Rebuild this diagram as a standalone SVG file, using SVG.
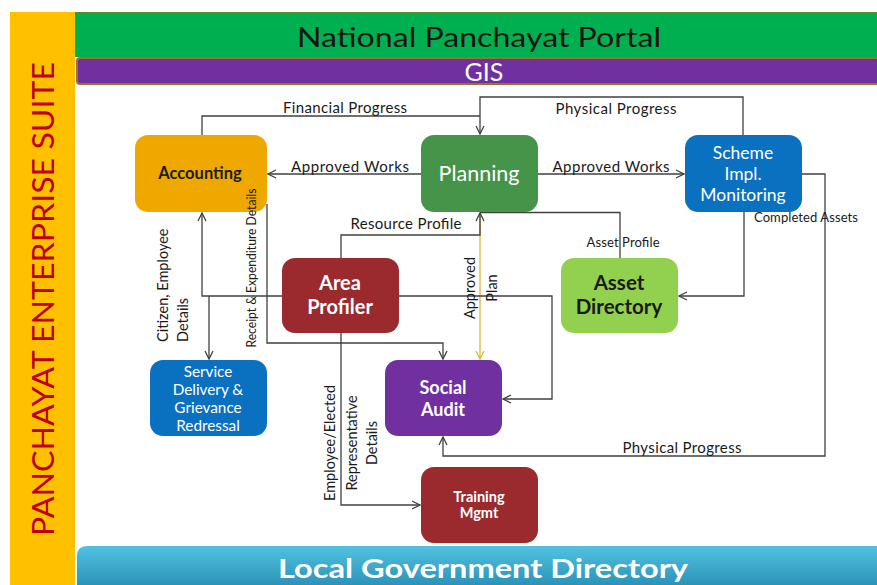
<svg xmlns="http://www.w3.org/2000/svg" width="877" height="585" viewBox="0 0 877 585">
  <defs>
    <marker id="arrow" viewBox="0 0 10 10" refX="9" refY="5" markerWidth="10" markerHeight="10" markerUnits="userSpaceOnUse" orient="auto">
      <path d="M1,1 L9,5 L1,9" fill="none" stroke="#404040" stroke-width="1.3"/>
    </marker>
    <marker id="arrowGold" viewBox="0 0 10 10" refX="9" refY="5" markerWidth="10" markerHeight="10" markerUnits="userSpaceOnUse" orient="auto">
      <path d="M1,1 L9,5 L1,9" fill="none" stroke="#E3B530" stroke-width="1.3"/>
    </marker>
    <linearGradient id="lgdFill" x1="0" y1="0" x2="0" y2="1">
      <stop offset="0" stop-color="#52C2E0"/>
      <stop offset="1" stop-color="#2C93B8"/>
    </linearGradient>
  </defs>
  <style>
    text { font-family: Lato, "Liberation Sans", sans-serif; }
    .conn { fill: none; stroke: #404040; stroke-width: 1.3; }
    .gold { fill: none; stroke: #E3B530; stroke-width: 1.3; }
    .lbl { font-size: 15px; fill: #1a1a1a; text-anchor: middle; }
    .lbl-s { font-size: 13px; fill: #1a1a1a; text-anchor: middle; }
    .vlbl { font-size: 14.5px; fill: #1a1a1a; }
    .node-w { fill: #ffffff; text-anchor: middle; }
    .node-d { fill: #1a1a1a; text-anchor: middle; }
    .bold { font-weight: bold; }
  </style>

  <rect x="0" y="0" width="877" height="585" fill="#ffffff"/>

  <!-- side band -->
  <g id="suite-band">
    <rect x="10" y="12" width="65" height="573" fill="#FFC000"/>
    <text transform="translate(54,536) rotate(-90)" font-size="31" fill="#C00000" textLength="474" lengthAdjust="spacingAndGlyphs">PANCHAYAT ENTERPRISE SUITE</text>
  </g>

  <!-- top bands -->
  <g id="portal-band">
    <rect x="75" y="12" width="802" height="45" fill="#00B050"/>
    <line x1="75" y1="12.5" x2="877" y2="12.5" stroke="#5E8A2E" stroke-width="1"/>
    <text x="479" y="47" font-size="27" fill="#151515" text-anchor="middle" textLength="364" lengthAdjust="spacingAndGlyphs">National Panchayat Portal</text>
  </g>
  <g id="gis-band">
    <rect x="77" y="58" width="802" height="26" rx="3" fill="#7030A0" stroke="#A0712A" stroke-width="2"/>
    <text x="484" y="81" font-size="25" fill="#ffffff" text-anchor="middle">GIS</text>
  </g>

  <!-- bottom band -->
  <g id="lgd-band">
    <path d="M77,585 V556 Q77,546 87,546 H877 V585 Z" fill="url(#lgdFill)"/>
    <text x="483" y="578" font-size="26" font-weight="bold" fill="#ffffff" text-anchor="middle" textLength="410" lengthAdjust="spacingAndGlyphs">Local Government Directory</text>
  </g>

  <!-- connectors -->
  <g id="connectors">
    <!-- Financial Progress: Accounting to Planning -->
    <path class="conn" d="M202,135 V116 H480"/>
    <!-- Physical Progress: Scheme Monitoring to Planning -->
    <path class="conn" d="M743,135 V97 H480 V134" marker-end="url(#arrow)"/>
    <!-- Approved Works -->
    <path class="conn" d="M421,174 H268" marker-end="url(#arrow)"/>
    <path class="conn" d="M538,174 H684" marker-end="url(#arrow)"/>
    <!-- Approved Plan -->
    <path class="gold" d="M480,214 V359" marker-end="url(#arrowGold)"/>
    <!-- Resource Profile: Area Profiler to Planning -->
    <path class="conn" d="M341,258 V235 H480 V213" marker-end="url(#arrow)"/>
    <!-- Asset Profile: Asset Directory to Planning -->
    <path class="conn" d="M620,258 V212.5 H480"/>
    <!-- Completed Assets: Scheme Monitoring to Asset Directory -->
    <path class="conn" d="M744,212 V296 H679" marker-end="url(#arrow)"/>
    <!-- Physical Progress: Scheme Monitoring to Social Audit -->
    <path class="conn" d="M802,174 H825 V456 H443 V437" marker-end="url(#arrow)"/>
    <!-- Area Profiler to Social Audit -->
    <path class="conn" d="M399,296 H552 V399 H503" marker-end="url(#arrow)"/>
    <!-- Area Profiler to Accounting and Service Delivery -->
    <path class="conn" d="M282,296 H202 V213" marker-end="url(#arrow)"/>
    <path class="conn" d="M209,296 V359" marker-end="url(#arrow)"/>
    <!-- Receipt & Expenditure: Accounting to Social Audit -->
    <path class="conn" d="M267,204 V343 H443 V359" marker-end="url(#arrow)"/>
    <!-- Employee details: Area Profiler to Training -->
    <path class="conn" d="M341,333 V505 H420" marker-end="url(#arrow)"/>
  </g>

  <!-- nodes -->
  <g id="accounting">
    <rect x="135" y="135" width="132" height="77" rx="13" fill="#EEA800"/>
    <text class="node-d bold" x="200" y="179" font-size="16.5">Accounting</text>
  </g>
  <g id="planning">
    <rect x="421" y="135" width="117" height="77" rx="13" fill="#45944A"/>
    <text class="node-w" x="479" y="181" font-size="21.5">Planning</text>
  </g>
  <g id="scheme-monitoring">
    <rect x="685" y="135" width="117" height="77" rx="13" fill="#0A70C0"/>
    <text class="node-w" x="743" y="159" font-size="17.5">Scheme</text>
    <text class="node-w" x="743" y="180" font-size="17.5">Impl.</text>
    <text class="node-w" x="743" y="201" font-size="17.5">Monitoring</text>
  </g>
  <g id="area-profiler">
    <rect x="282" y="258" width="117" height="75" rx="13" fill="#9A2A2E"/>
    <text class="node-w bold" x="340" y="290" font-size="20">Area</text>
    <text class="node-w bold" x="340" y="314" font-size="20">Profiler</text>
  </g>
  <g id="asset-directory">
    <rect x="561" y="258" width="117" height="75" rx="13" fill="#92D050"/>
    <text class="node-d bold" x="619" y="290" font-size="20.5">Asset</text>
    <text class="node-d bold" x="619" y="314" font-size="20.5">Directory</text>
  </g>
  <g id="service-delivery">
    <rect x="150" y="360" width="117" height="76" rx="13" fill="#0A70C0"/>
    <text class="node-w" x="208" y="377" font-size="15.3">Service</text>
    <text class="node-w" x="208" y="395" font-size="15.3">Delivery &amp;</text>
    <text class="node-w" x="208" y="413" font-size="15.3">Grievance</text>
    <text class="node-w" x="208" y="431" font-size="15.3">Redressal</text>
  </g>
  <g id="social-audit">
    <rect x="385" y="360" width="117" height="76" rx="13" fill="#7030A0"/>
    <text class="node-w bold" x="443" y="394" font-size="18">Social</text>
    <text class="node-w bold" x="443" y="416" font-size="18">Audit</text>
  </g>
  <g id="training-mgmt">
    <rect x="421" y="467" width="117" height="76" rx="13" fill="#9A2A2E"/>
    <text class="node-w bold" x="479" y="502" font-size="14.5">Training</text>
    <text class="node-w bold" x="479" y="518" font-size="14.5">Mgmt</text>
  </g>

  <!-- connector labels -->
  <g id="connector-labels">
    <text class="lbl" x="345" y="113" textLength="124">Financial Progress</text>
    <text class="lbl" x="616" y="114" textLength="121">Physical Progress</text>
    <text class="lbl" x="350" y="172" textLength="118">Approved Works</text>
    <text class="lbl" x="611" y="172" textLength="117">Approved Works</text>
    <text class="vlbl" transform="translate(475,288) rotate(-90)" text-anchor="middle" font-size="14.5">Approved</text>
    <text class="vlbl" transform="translate(497,288) rotate(-90)" text-anchor="middle" font-size="14.5">Plan</text>
    <text class="lbl" x="406" y="229" textLength="111">Resource Profile</text>
    <text class="lbl-s" x="623" y="247" textLength="73">Asset Profile</text>
    <text class="lbl-s" x="806" y="222" textLength="104">Completed Assets</text>
    <text class="lbl" x="682" y="453" textLength="119">Physical Progress</text>
    <text class="vlbl" transform="translate(168,342) rotate(-90)">Citizen, Employee</text>
    <text class="vlbl" transform="translate(188,342) rotate(-90)">Details</text>
    <text transform="translate(256,268) rotate(-90)" font-size="12.5" fill="#1a1a1a" text-anchor="middle" textLength="159" lengthAdjust="spacingAndGlyphs">Receipt &amp; Expenditure Details</text>
    <text class="vlbl" transform="translate(335,443) rotate(-90)" text-anchor="middle">Employee/Elected</text>
    <text class="vlbl" transform="translate(357,443) rotate(-90)" text-anchor="middle">Representative</text>
    <text class="vlbl" transform="translate(377,443) rotate(-90)" text-anchor="middle">Details</text>
  </g>
</svg>
